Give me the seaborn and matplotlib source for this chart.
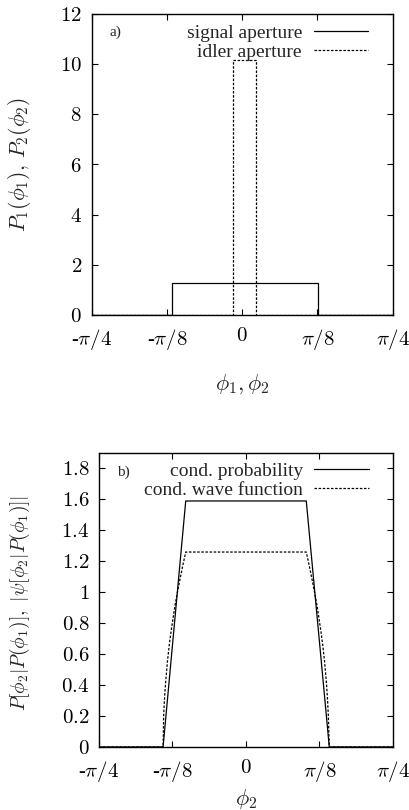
import numpy as np
import pandas as pd
import matplotlib
matplotlib.use("Agg")
import matplotlib.pyplot as plt
import seaborn as sns

PI = np.pi

# ---- data ----
signal_x = [-PI/4, -0.368, -0.368, 0.393, 0.393, PI/4]
signal_y = [0, 0, 1.27, 1.27, 0, 0]
idler_x = [-PI/4, -0.049, -0.049, 0.073, 0.073, PI/4]
idler_y = [0, 0, 10.17, 10.17, 0, 0]

prob_x = [-PI/4, -0.443, -0.322, 0.322, 0.445, PI/4]
prob_y = [0, 0, 1.59, 1.59, 0, 0]

wave_x = [-PI/4, -0.443, -0.440, -0.435, -0.430, -0.420, -0.410, -0.400, -0.380,
          -0.360, -0.340, -0.322, 0.322, 0.340, 0.360, 0.380, 0.400, 0.410,
          0.420, 0.430, 0.435, 0.440, 0.445, PI/4]
wave_y = [0, 0, 0.20, 0.32, 0.41, 0.55, 0.66, 0.75, 0.91,
          1.04, 1.16, 1.26, 1.26, 1.16, 1.04, 0.91, 0.75, 0.66,
          0.55, 0.41, 0.32, 0.20, 0, 0]

xticks = [-PI/4, -PI/8, 0, PI/8, PI/4]
xtick_labels = ['-$\\pi/4$', '-$\\pi/8$', '$0$', '$\\pi/8$', '$\\pi/4$']
yticks_a = [0, 2, 4, 6, 8, 10, 12]
ytick_labels_a = ['$0$', '$2$', '$4$', '$6$', '$8$', '$10$', '$12$']
yticks_b = [0, 0.2, 0.4, 0.6, 0.8, 1.0, 1.2, 1.4, 1.6, 1.8]
ytick_labels_b = ['$0$', '$0.2$', '$0.4$', '$0.6$', '$0.8$', '$1$', '$1.2$',
                  '$1.4$', '$1.6$', '$1.8$']

sns.set_theme(style="ticks")
plt.rcParams['font.family'] = ['Liberation Serif', 'DejaVu Serif']
plt.rcParams['mathtext.fontset'] = 'cm'
plt.rcParams['axes.linewidth'] = 1.0

FS = 14
TFS = 15
fig = plt.figure(figsize=(4.1, 8.1), dpi=100)
ax1 = fig.add_axes([91.7/410, 1-315/810, 301/410, 301/810])
ax2 = fig.add_axes([99/410, 1-747/810, 294/410, 294/810])

solid = dict(color='black', linewidth=0.9)
dashed = dict(color='black', linewidth=0.9, linestyle=(0, (2.0, 1.3)))

sns.lineplot(x=signal_x, y=signal_y, ax=ax1, sort=False, estimator=None,
             label='signal aperture', **solid)
sns.lineplot(x=idler_x, y=idler_y, ax=ax1, sort=False, estimator=None,
             label='idler aperture', **dashed)

sns.lineplot(x=prob_x, y=prob_y, ax=ax2, sort=False, estimator=None,
             label='cond. probability', **solid)
sns.lineplot(x=wave_x, y=wave_y, ax=ax2, sort=False, estimator=None,
             label='cond. wave function', **dashed)

for ax in (ax1, ax2):
    ax.set_xlim(-PI/4, PI/4)
    ax.set_xticks(xticks, xtick_labels)
    ax.tick_params(direction='in', top=True, right=True, length=4, width=0.8,
                   labelsize=TFS, pad=7, colors='black')
    ax.tick_params(axis='x', pad=8.5)
    for s in ax.spines.values():
        s.set_color('black')

ax1.set_ylim(0, 12)
ax1.set_yticks(yticks_a, ytick_labels_a)
ax2.set_ylim(0, 1.9)
ax2.set_yticks(yticks_b, ytick_labels_b)

ax1.set_xlabel('$\\phi_1, \\phi_2$', fontsize=16)
ax1.set_ylabel('$P_1(\\phi_1),\\, P_2(\\phi_2)$', fontsize=15.5)
ax2.set_xlabel('$\\phi_2$', fontsize=16)
ax2.set_ylabel('$P[\\phi_2|P(\\phi_1)],\\ |\\psi[\\phi_2|P(\\phi_1)]|$', fontsize=14)
ax1.xaxis.set_label_coords(0.5, -0.19)
ax1.yaxis.set_label_coords(-0.195, 0.5)
ax2.xaxis.set_label_coords(0.5, -0.136)
ax2.yaxis.set_label_coords(-0.228, 0.49)

ax1.text(0.06, 0.94, 'a)', transform=ax1.transAxes, fontsize=11, va='center')
ax2.text(0.06, 0.935, 'b)', transform=ax2.transAxes, fontsize=11, va='center')

for ax, anch in ((ax1, (0.918, 0.965)), (ax2, (0.918, 0.968))):
    ax.legend(loc='upper right', bbox_to_anchor=anch, frameon=False,
              markerfirst=False, fontsize=FS, handlelength=2.8,
              handletextpad=0.6, borderpad=0, borderaxespad=0,
              labelspacing=0.05)

fig.savefig('out.png', dpi=100)
